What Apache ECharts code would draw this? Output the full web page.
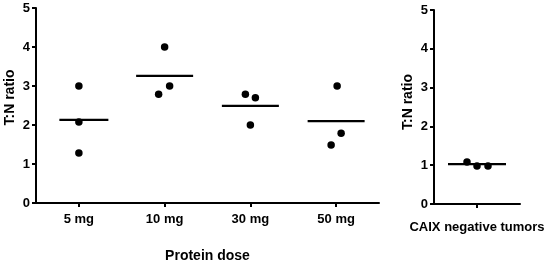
<!DOCTYPE html>
<html>
<head>
<meta charset="utf-8">
<script src="https://cdn.jsdelivr.net/npm/echarts@6/dist/echarts.min.js"></script>
<style>
  html, body { margin: 0; padding: 0; background: #fff; }
  #chart-container { width: 546px; height: 265px; }
</style>
</head>
<body>
<div id="chart-container"></div>
<script>
// 数据
var doseCats = ['5 mg', '10 mg', '30 mg', '50 mg'];
var doseValues = [
  [3.0, 2.08, 1.28],
  [4.0, 2.79, 3.0],
  [2.79, 2.7, 2.0],
  [3.0, 1.79, 1.49]
];
var doseMeans = [2.13, 3.26, 2.49, 2.1];
var negCats = ['CAIX negative tumors'];
var negValues = [1.08, 0.98, 0.98];
var negMeans = [1.03];

// 点的水平错位（像素）
var dotShift = [[0, 0, 0], [0, -6, 5], [-5, 5, 0], [1, 5, -5]];
var negShift = [-10, 0, 11];

var font = 'Liberation Sans, Arial, sans-serif';

function yAxisOpt(gridIndex, pad) {
  return {
    type: 'value',
    gridIndex: gridIndex,
    min: 0,
    max: 5,
    interval: 1,
    name: 'T:N ratio',
    nameLocation: 'middle',
    nameGap: 19,
    nameMoveOverlap: false,
    nameTextStyle: { color: '#000', fontFamily: font, fontWeight: 'bold', fontSize: 14, padding: [0, 0, 0, pad] },
    axisLine: { show: true, lineStyle: { color: '#000', width: 2 } },
    axisTick: { show: true, inside: false, length: 4, lineStyle: { color: '#000', width: 2 } },
    axisLabel: { color: '#000', fontFamily: font, fontWeight: 'bold', fontSize: 13, margin: 6 },
    splitLine: { show: false }
  };
}

function xAxisOpt(gridIndex, cats, margin) {
  return {
    type: 'category',
    gridIndex: gridIndex,
    data: cats,
    boundaryGap: true,
    axisLine: { show: true, lineStyle: { color: '#000', width: 2 } },
    axisTick: { show: true, inside: false, alignWithLabel: true, length: 4, lineStyle: { color: '#000', width: 2 } },
    axisLabel: { color: '#000', fontFamily: font, fontWeight: 'bold', fontSize: 13, margin: margin },
    splitLine: { show: false }
  };
}

var dotData = [];
doseValues.forEach(function (vals, i) {
  vals.forEach(function (v, j) {
    dotData.push({ value: [i, v], symbolOffset: [dotShift[i][j], 0] });
  });
});
var meanData = doseMeans.map(function (m, i) {
  // 5 mg 的均值线较短且略偏右
  return i === 0 ? { value: [i, m], symbolSize: [49, 2.2], symbolOffset: [5, 0] } : [i, m];
});
var negDots = negValues.map(function (v, j) {
  return { value: [0, v], symbolOffset: [negShift[j], 0] };
});
var negMeanData = negMeans.map(function (m, i) { return [i, m]; });

var container = document.getElementById('chart-container');
var myChart = echarts.init(container, null, { renderer: 'canvas' });

var markStyle = { color: '#000', opacity: 1 };

myChart.setOption({
  animation: false,
  backgroundColor: '#fff',
  grid: [
    { left: 36, top: 8, width: 343, height: 195, containLabel: false, outerBoundsMode: 'none' },
    { left: 434, top: 10, width: 86, height: 194, containLabel: false, outerBoundsMode: 'none' }
  ],
  xAxis: [
    Object.assign(xAxisOpt(0, doseCats, 10), {
      name: 'Protein dose',
      nameLocation: 'middle',
      nameGap: 46,
      nameMoveOverlap: false,
      nameTextStyle: { color: '#000', fontFamily: font, fontWeight: 'bold', fontSize: 14 }
    }),
    xAxisOpt(1, negCats, 17)
  ],
  yAxis: [yAxisOpt(0, 16), yAxisOpt(1, 10)],
  series: [
    {
      type: 'scatter',
      xAxisIndex: 0, yAxisIndex: 0,
      symbol: 'rect',
      symbolSize: [57, 2.2],
      itemStyle: markStyle,
      data: meanData,
      z: 2
    },
    {
      type: 'scatter',
      xAxisIndex: 0, yAxisIndex: 0,
      symbol: 'circle',
      symbolSize: 7.5,
      itemStyle: markStyle,
      data: dotData,
      z: 3
    },
    {
      type: 'scatter',
      xAxisIndex: 1, yAxisIndex: 1,
      symbol: 'rect',
      symbolSize: [58, 2.2],
      itemStyle: markStyle,
      data: negMeanData,
      z: 2
    },
    {
      type: 'scatter',
      xAxisIndex: 1, yAxisIndex: 1,
      symbol: 'circle',
      symbolSize: 7.5,
      itemStyle: markStyle,
      data: negDots,
      z: 3
    }
  ]
});
</script>
</body>
</html>
